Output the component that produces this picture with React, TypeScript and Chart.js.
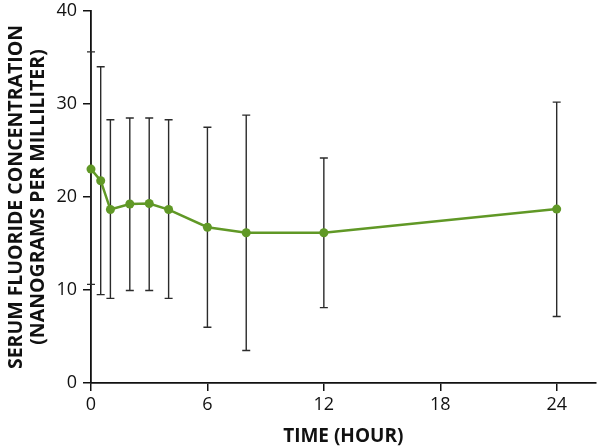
import React, { useEffect, useRef } from "react";
import { Chart, registerables } from "chart.js";

Chart.register(...registerables);

const hours = [0, 0.5, 1, 2, 3, 4, 6, 8, 12, 24];
const meanValues = [23.0, 21.75, 18.65, 19.25, 19.3, 18.65, 16.75, 16.15, 16.15, 18.7];
const upperValues = [35.6, 34.0, 28.3, 28.5, 28.5, 28.3, 27.5, 28.8, 24.2, 30.2];
const lowerValues = [10.6, 9.5, 9.1, 9.95, 9.95, 9.1, 6.0, 3.5, 8.1, 7.15];
const xTicks = [0, 6, 12, 18, 24];
const yTicks = [0, 10, 20, 30, 40];

const GREEN = "rgb(96,152,38)";
const FONT = "'Open Sans', 'Noto Sans', sans-serif";

const errorBarPlugin = {
  id: "errorBars",
  beforeDatasetsDraw(chart: any) {
    const { ctx, scales } = chart;
    const xs = scales.x;
    const ys = scales.y;
    ctx.save();
    ctx.strokeStyle = "#2b2b2b";
    ctx.lineWidth = 1.4;
    const cap = 4;
    hours.forEach((h, i) => {
      const x = xs.getPixelForValue(h);
      const yTop = ys.getPixelForValue(upperValues[i]);
      const yBot = ys.getPixelForValue(lowerValues[i]);
      ctx.beginPath();
      ctx.moveTo(x, yTop);
      ctx.lineTo(x, yBot);
      ctx.moveTo(x - cap, yTop);
      ctx.lineTo(x + cap, yTop);
      ctx.moveTo(x - cap, yBot);
      ctx.lineTo(x + cap, yBot);
      ctx.stroke();
    });
    ctx.restore();
  },
};

export default function App() {
  const ref = useRef<HTMLCanvasElement | null>(null);
  useEffect(() => {
    document.body.style.margin = "0";
    const canvas = ref.current!;
    const chart = new Chart(canvas, {
      type: "line",
      data: {
        datasets: [
          {
            data: hours.map((h, i) => ({ x: h, y: meanValues[i] })),
            borderColor: GREEN,
            backgroundColor: GREEN,
            borderWidth: 2.5,
            pointRadius: 4.5,
            pointHoverRadius: 4.5,
            pointBorderWidth: 0,
            tension: 0,
            clip: false,
          },
        ],
      },
      options: {
        animation: false,
        responsive: false,
        maintainAspectRatio: false,
        layout: { padding: { top: 11, right: 3, bottom: 0, left: 0 } },
        plugins: { legend: { display: false }, tooltip: { enabled: false } },
        scales: {
          x: {
            type: "linear",
            min: 0,
            max: 26,
            afterBuildTicks: (scale: any) => {
              scale.ticks = xTicks.map((v) => ({ value: v }));
            },
            afterFit: (scale: any) => {
              scale.height = 65;
              scale.paddingLeft = 0;
              scale.paddingRight = 0;
            },
            ticks: { color: "#111", font: { family: FONT, size: 18 }, padding: 3, maxRotation: 0 },
            grid: { display: true, drawOnChartArea: false, drawTicks: true, tickLength: 8, color: "#111", lineWidth: 1.5 },
            border: { display: true, color: "#111", width: 1.8 },
            title: {
              display: true,
              text: "TIME (HOUR)",
              color: "#111",
              font: { family: FONT, size: 19, weight: "bold" },
              padding: { top: 0, bottom: 0 },
            },
          },
          y: {
            type: "linear",
            min: 0,
            max: 40,
            afterBuildTicks: (scale: any) => {
              scale.ticks = yTicks.map((v) => ({ value: v }));
            },
            afterFit: (scale: any) => {
              scale.width = 91;
              scale.paddingTop = 0;
              scale.paddingBottom = 0;
            },
            ticks: { color: "#111", font: { family: FONT, size: 18 }, padding: 6 },
            grid: { display: true, drawOnChartArea: false, drawTicks: true, tickLength: 8, color: "#111", lineWidth: 1.5 },
            border: { display: true, color: "#111", width: 1.8 },
            title: {
              display: true,
              text: ["SERUM FLUORIDE CONCENTRATION", "(NANOGRAMS PER MILLILITER)"],
              color: "#111",
              font: { family: FONT, size: 19.5, weight: "bold", lineHeight: 1.15 },
              padding: { top: 5, bottom: 0 },
            },
          },
        },
      },
      plugins: [errorBarPlugin],
    } as any);
    return () => chart.destroy();
  }, []);
  return (
    <div style={{ width: 600, height: 448 }}>
      <canvas ref={ref} width={600} height={448} style={{ display: "block" }} />
    </div>
  );
}
